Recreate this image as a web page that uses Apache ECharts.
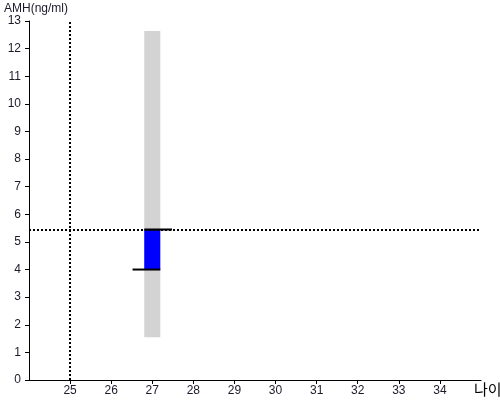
<!DOCTYPE html>
<html><head><meta charset="utf-8">
<script src="https://cdn.jsdelivr.net/npm/echarts@6/dist/echarts.min.js"></script>
<style>html,body{margin:0;padding:0;background:#fff}#c{width:500px;height:400px}</style>
</head><body><div id="c"></div>
<script>
// Data
const ages = [27];
const rangeLow = [1.55];
const rangeHigh = [12.64];
const amhLow = [4.0];
const amhHigh = [5.45];
const refAge = 25;
const refAmh = 5.45;
const xTicks = [25, 26, 27, 28, 29, 30, 31, 32, 33, 34];

const chart = echarts.init(document.getElementById('c'));
const font = 'Arial, "Liberation Sans", sans-serif';
const halfW = 0.195;

function rectItem(lowArr, highArr, color) {
  return {
    type: 'custom',
    data: ages.map((a, i) => [a, lowArr[i], highArr[i]]),
    renderItem: (params, api) => {
      const p0 = api.coord([api.value(0) - halfW, api.value(2)]);
      const p1 = api.coord([api.value(0) + halfW, api.value(1)]);
      return { type: 'rect', shape: { x: p0[0], y: p0[1], width: p1[0] - p0[0], height: p1[1] - p0[1] }, style: { fill: color } };
    },
    silent: true
  };
}

chart.setOption({
  animation: false,
  grid: { left: 29, right: 19, top: 21, bottom: 20, containLabel: false, outerBoundsMode: 'none' },
  xAxis: {
    type: 'value', min: 24, max: 35, interval: 1,
    name: '나이', nameLocation: 'end', nameGap: -7,
    nameTextStyle: { color: '#000', fontSize: 15, fontFamily: '"Noto Sans CJK KR", sans-serif', verticalAlign: 'top', padding: [2, 0, 0, 0] },
    axisLine: { lineStyle: { color: '#000', width: 1 } },
    axisTick: { show: true, customValues: xTicks, length: 4, lineStyle: { color: '#000' } },
    axisLabel: { customValues: xTicks, color: '#1a1a2a', fontSize: 12, fontFamily: font, margin: 5 },
    splitLine: { show: false }
  },
  yAxis: {
    type: 'value', min: 0, max: 13, interval: 1,
    name: 'AMH(ng/ml)', nameLocation: 'end', nameGap: 5,
    nameTextStyle: { color: '#1a1a2a', fontSize: 12, fontFamily: font, align: 'left', padding: [0, 0, 0, -25] },
    axisLine: { show: true, lineStyle: { color: '#000', width: 1 } },
    axisTick: { show: true, length: 4, lineStyle: { color: '#000' } },
    axisLabel: { color: '#1a1a2a', fontSize: 12, fontFamily: font, margin: 8 },
    splitLine: { show: false }
  },
  series: [
    rectItem(rangeLow, rangeHigh, '#d3d3d3'),
    rectItem(amhLow, amhHigh, '#0000ff'),
    {
      type: 'custom',
      data: ages.map((a, i) => [a, amhLow[i], amhHigh[i]]),
      renderItem: (params, api) => {
        const a = api.value(0);
        const u0 = api.coord([a - halfW, api.value(2)]);
        const u1 = api.coord([a + 0.48, api.value(2)]);
        const l0 = api.coord([a - 0.48, api.value(1)]);
        const l1 = api.coord([a + halfW, api.value(1)]);
        return { type: 'group', children: [
          { type: 'line', shape: { x1: u0[0], y1: u0[1], x2: u1[0], y2: u1[1] }, style: { stroke: '#000', lineWidth: 2 } },
          { type: 'line', shape: { x1: l0[0], y1: l0[1], x2: l1[0], y2: l1[1] }, style: { stroke: '#000', lineWidth: 2 } }
        ]};
      },
      silent: true,
      markLine: {
        silent: true, symbol: ['none', 'none'], label: { show: false },
        lineStyle: { color: '#000', type: [2, 2], width: 2 },
        data: [{ xAxis: refAge }, { yAxis: refAmh }]
      }
    }
  ]
});
</script></body></html>
